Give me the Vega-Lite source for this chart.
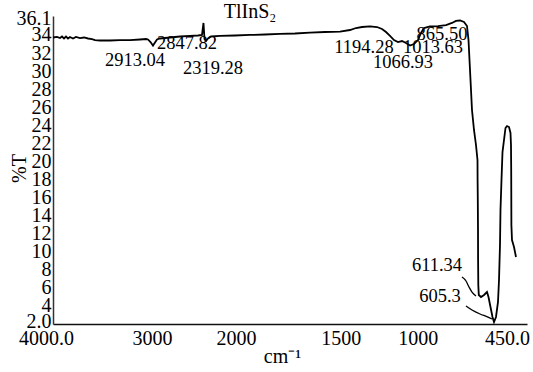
{
  "$schema": "https://vega.github.io/schema/vega-lite/v6.json",
  "width": 474,
  "height": 308,
  "autosize": "none",
  "padding": {"left": 53, "top": 16, "right": 6, "bottom": 48},
  "background": "white",
  "config": {"view": {"stroke": null}, "font": "Liberation Serif"},
  "datasets": {
    "spectrum": [
      {"i":0,"wn":4000,"t":33.72},{"i":1,"wn":3957,"t":33.78},{"i":2,"wn":3924.7,"t":33.66},{"i":3,"wn":3903.2,"t":33.83},
      {"i":4,"wn":3881.6,"t":33.61},{"i":5,"wn":3860.1,"t":33.83},{"i":6,"wn":3838.6,"t":33.61},{"i":7,"wn":3817.1,"t":33.78},
      {"i":8,"wn":3784.8,"t":33.61},{"i":9,"wn":3752.5,"t":33.78},{"i":10,"wn":3709.5,"t":33.66},{"i":11,"wn":3666.5,"t":33.72},
      {"i":12,"wn":3623.4,"t":33.61},{"i":13,"wn":3580.4,"t":33.55},{"i":14,"wn":3548.1,"t":33.44},{"i":15,"wn":3494.3,"t":33.39},
      {"i":16,"wn":3386.7,"t":33.39},{"i":17,"wn":3279.1,"t":33.44},{"i":18,"wn":3171.5,"t":33.44},{"i":19,"wn":3063.9,"t":33.5},
      {"i":20,"wn":2999.4,"t":33.55},{"i":21,"wn":2977.9,"t":33.5},{"i":22,"wn":2951.0,"t":33.22},{"i":23,"wn":2924.1,"t":32.83},
      {"i":24,"wn":2902.5,"t":33.17},{"i":25,"wn":2881.0,"t":33.5},{"i":26,"wn":2848.7,"t":33.61},{"i":27,"wn":2741.1,"t":33.72},
      {"i":28,"wn":2633.6,"t":33.83},{"i":29,"wn":2526.0,"t":33.89},{"i":30,"wn":2439.9,"t":33.94},{"i":31,"wn":2396.9,"t":34.0},
      {"i":32,"wn":2380.7,"t":35.33},{"i":33,"wn":2370.0,"t":33.55},{"i":34,"wn":2353.8,"t":33.33},{"i":35,"wn":2332.3,"t":33.61},
      {"i":36,"wn":2300.0,"t":33.83},{"i":37,"wn":2203.2,"t":33.89},{"i":38,"wn":2041.8,"t":33.94},{"i":39,"wn":1940.2,"t":34.0},
      {"i":40,"wn":1859.5,"t":34.05},{"i":41,"wn":1778.8,"t":34.11},{"i":42,"wn":1698.1,"t":34.16},{"i":43,"wn":1617.4,"t":34.27},
      {"i":44,"wn":1536.7,"t":34.33},{"i":45,"wn":1456.0,"t":34.38},{"i":46,"wn":1402.2,"t":34.55},{"i":47,"wn":1369.9,"t":34.77},
      {"i":48,"wn":1337.7,"t":34.88},{"i":49,"wn":1294.6,"t":34.94},{"i":50,"wn":1257.0,"t":34.88},{"i":51,"wn":1230.1,"t":34.66},
      {"i":52,"wn":1208.5,"t":34.33},{"i":53,"wn":1187.0,"t":33.89},{"i":54,"wn":1165.5,"t":33.44},{"i":55,"wn":1144.0,"t":33.22},
      {"i":56,"wn":1122.5,"t":33.33},{"i":57,"wn":1101.0,"t":33.11},{"i":58,"wn":1079.4,"t":32.83},{"i":59,"wn":1057.9,"t":33.0},
      {"i":60,"wn":1036.4,"t":33.44},{"i":61,"wn":1020.3,"t":34.22},{"i":62,"wn":1004.1,"t":34.77},{"i":63,"wn":971.8,"t":34.94},
      {"i":64,"wn":928.8,"t":34.99},{"i":65,"wn":885.8,"t":35.1},{"i":66,"wn":853.5,"t":35.33},{"i":67,"wn":832.0,"t":35.55},
      {"i":68,"wn":810.4,"t":35.6},{"i":69,"wn":788.9,"t":35.44},{"i":70,"wn":772.8,"t":34.99},{"i":71,"wn":764.7,"t":33.44},
      {"i":72,"wn":759.3,"t":31.23},{"i":73,"wn":753.9,"t":29.01},{"i":74,"wn":745.9,"t":25.69},{"i":75,"wn":735.1,"t":23.48},
      {"i":76,"wn":724.4,"t":21.82},{"i":77,"wn":716.3,"t":20.16},{"i":78,"wn":715.8,"t":17.94},{"i":79,"wn":714.7,"t":15.73},
      {"i":80,"wn":713.6,"t":12.41},{"i":81,"wn":713.1,"t":9.09},{"i":82,"wn":712.0,"t":6.32},{"i":83,"wn":709.3,"t":5.21},
      {"i":84,"wn":697.5,"t":4.99},{"i":85,"wn":681.3,"t":5.21},{"i":86,"wn":665.2,"t":5.54},{"i":87,"wn":657.1,"t":4.99},
      {"i":88,"wn":646.4,"t":3.88},{"i":89,"wn":635.6,"t":2.78},{"i":90,"wn":627.5,"t":2.22},{"i":91,"wn":616.8,"t":2.78},
      {"i":92,"wn":606.0,"t":4.44},{"i":93,"wn":600.6,"t":6.87},{"i":94,"wn":595.3,"t":10.75},{"i":95,"wn":592.6,"t":14.62},
      {"i":96,"wn":587.2,"t":17.94},{"i":97,"wn":581.8,"t":21.04},{"i":98,"wn":573.7,"t":22.37},{"i":99,"wn":565.7,"t":23.7},
      {"i":100,"wn":557.6,"t":23.92},{"i":101,"wn":546.8,"t":23.81},{"i":102,"wn":538.8,"t":23.15},{"i":103,"wn":536.1,"t":21.82},
      {"i":104,"wn":535.0,"t":19.05},{"i":105,"wn":534.5,"t":16.28},{"i":106,"wn":534.0,"t":12.96},{"i":107,"wn":530.7,"t":11.3},
      {"i":108,"wn":519.9,"t":10.52},{"i":109,"wn":509.2,"t":9.42}
    ],
    "labels": [
      {"label":"2913.04","wn":3117.7,"t":30.56,"size":18.5},
      {"label":"2847.82","wn":2558.2,"t":32.45,"size":18.5},
      {"label":"2319.28","wn":2278.5,"t":29.68,"size":18.5},
      {"label":"1194.28","wn":1326.9,"t":32.0,"size":18.5},
      {"label":"1013.63","wn":955.7,"t":32.0,"size":18.5},
      {"label":"1066.93","wn":1117.1,"t":30.34,"size":18.5},
      {"label":"865.50","wn":907.3,"t":33.44,"size":18.5},
      {"label":"611.34","wn":934.2,"t":7.87,"size":18.5},
      {"label":"605.3","wn":918.0,"t":4.44,"size":18.5},
      {"label":"TlInS₂","wn":1940.2,"t":35.88,"size":20}
    ],
    "leaders": [
      {"g":"a","i":0,"wn":799.7,"t":7.2},{"g":"a","i":1,"wn":778.2,"t":6.76},{"g":"a","i":2,"wn":762.0,"t":6.1},{"g":"a","i":3,"wn":745.9,"t":5.54},{"g":"a","i":4,"wn":724.4,"t":5.1},
      {"g":"b","i":0,"wn":778.2,"t":3.99},{"g":"b","i":1,"wn":745.9,"t":3.55},{"g":"b","i":2,"wn":702.8,"t":3.11},{"g":"b","i":3,"wn":659.8,"t":2.77},{"g":"b","i":4,"wn":638.3,"t":2.55}
    ]
  },
  "encoding": {
    "x": {
      "field": "wn", "type": "quantitative",
      "scale": {"type": "linear", "domain": [4000, 2000, 450], "range": [0, 185.88, 474], "nice": false, "zero": false},
      "axis": {
        "title": "cm⁻¹", "titleFont": "Liberation Serif", "titleFontSize": 20, "titleFontWeight": "normal", "titleColor": "black",
        "titleX": 229, "titleY": 38, "titleBaseline": "alphabetic", "titleAlign": "center",
        "values": [4000, 3000, 2000, 1500, 1000, 450],
        "labelExpr": "datum.value == 4000 ? '4000.0' : (datum.value == 450 ? '450.0' : format(datum.value, 'd'))",
        "labelOffset": {"condition": [
          {"test": "datum.value == 4000", "value": -7},
          {"test": "datum.value == 3000", "value": 6},
          {"test": "datum.value == 2000", "value": -3},
          {"test": "datum.value == 1500", "value": 9},
          {"test": "datum.value == 1000", "value": -7},
          {"test": "datum.value == 450", "value": -20}
        ], "value": 0},
        "labelFont": "Liberation Serif", "labelFontSize": 20, "labelColor": "black", "labelPadding": 4,
        "labelOverlap": false, "labelBound": false, "labelFlush": false,
        "ticks": false, "grid": false, "domainColor": "#111", "domainWidth": 1.5
      }
    },
    "y": {
      "field": "t", "type": "quantitative",
      "scale": {"domain": [2, 36.1], "nice": false, "zero": false},
      "axis": {
        "title": "%T", "titleFont": "Liberation Serif", "titleFontSize": 20, "titleFontWeight": "normal", "titleColor": "black",
        "titleAngle": 270, "titleX": -28, "titleY": 152, "titleBaseline": "alphabetic", "titleAlign": "center",
        "values": [2, 4, 6, 8, 10, 12, 14, 16, 18, 20, 22, 24, 26, 28, 30, 32, 34, 36.1],
        "labelExpr": "datum.value == 2 ? '2.0' : (datum.value > 36 ? '36.1' : format(datum.value, 'd'))",
        "labelOffset": {"condition": [
          {"test": "datum.value == 2", "value": -3},
          {"test": "datum.value > 36", "value": 2}
        ], "value": 0},
        "labelFont": "Liberation Serif", "labelFontSize": 20, "labelColor": "black", "labelPadding": 2,
        "labelOverlap": false, "labelBound": false, "labelFlush": false,
        "ticks": false, "grid": false, "domainColor": "#333", "domainWidth": 1.5
      }
    }
  },
  "layer": [
    {
      "data": {"name": "spectrum"},
      "mark": {"type": "line", "color": "black", "strokeWidth": 1.8},
      "encoding": {"order": {"field": "i", "type": "quantitative"}}
    },
    {
      "data": {"name": "leaders"},
      "mark": {"type": "line", "color": "black", "strokeWidth": 1.3, "interpolate": "monotone"},
      "encoding": {"detail": {"field": "g"}, "order": {"field": "i", "type": "quantitative"}}
    },
    {
      "data": {"name": "labels"},
      "mark": {"type": "text", "font": "Liberation Serif", "color": "black", "align": "center", "baseline": "alphabetic"},
      "encoding": {"text": {"field": "label"}, "size": {"field": "size", "type": "quantitative", "scale": null}}
    }
  ]
}
